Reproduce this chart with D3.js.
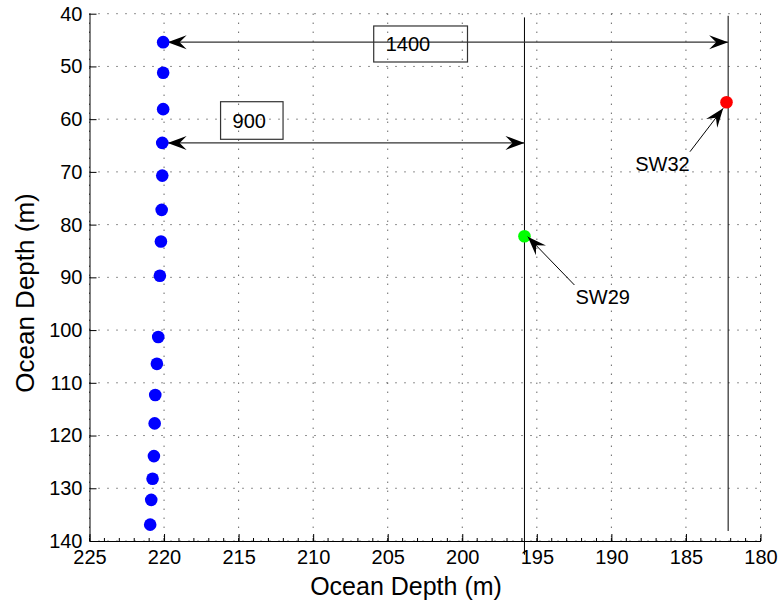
<!DOCTYPE html>
<html>
<head>
<meta charset="utf-8">
<script src="https://cdn.jsdelivr.net/npm/d3@7"></script>
<style>
  body { margin: 0; background: #fff; }
  svg text { font-family: "Liberation Sans", Arial, Helvetica, sans-serif; fill: #000; }
</style>
</head>
<body>
<div id="chart"></div>
<script>
// depth profile: blue points along the left mooring
const profileX = [220.06, 220.06, 220.06, 220.12, 220.12, 220.16, 220.21, 220.28,
                  220.39, 220.48, 220.59, 220.63, 220.68, 220.77, 220.86, 220.93];
const profileY = [45.4, 51.2, 58.1, 64.5, 70.7, 77.2, 83.2, 89.7,
                  101.3, 106.4, 112.3, 117.7, 123.9, 128.2, 132.2, 136.9];

// sensors
const sensorNames = ["SW29", "SW32"];
const sensorX = [195.83, 182.28];
const sensorY = [82.2, 56.8];
const sensorColors = ["#00ff00", "#ff0000"];
// label position and arrow tail for each sensor
const sensorLabelX = [192.41, 188.4];
const sensorLabelY = [95.0, 69.8];
const sensorTailX = [192.48, 184.73];
const sensorTailY = [91.45, 66.17];
const sensorTipX = [195.61, 182.5];
const sensorTipY = [82.29, 57.94];

// vertical reference lines
const vlineX = [195.83, 182.17];
const vlineTop = [40.7, 40.4];
const vlineBottom = [142.6, 138.1];

// distance arrows and their text boxes
const distLabels = ["1400", "900"];
const distY = [45.4, 64.5];
const distFrom = [219.76, 219.76];
const distTo = [182.17, 195.83];
const boxX0 = [205.94, 216.21];
const boxX1 = [199.65, 212.02];
const boxY0 = [42.33, 56.69];
const boxY1 = [49.16, 63.82];

const xTicks = [225, 220, 215, 210, 205, 200, 195, 190, 185, 180];
const yTicks = [40, 50, 60, 70, 80, 90, 100, 110, 120, 130, 140];

const width = 781, height = 605;
const margin = {top: 13.7, right: 20.5, bottom: 64, left: 89.5};

const x = d3.scaleLinear([225, 180], [margin.left, width - margin.right]);
const y = d3.scaleLinear([40, 140], [margin.top, height - margin.bottom]);

const svg = d3.select("#chart").append("svg")
    .attr("width", width)
    .attr("height", height)
    .attr("viewBox", [0, 0, width, height]);

// dotted grid
const grid = svg.append("g")
    .attr("stroke", "#222")
    .attr("stroke-width", 1)
    .attr("stroke-dasharray", "1,8");
grid.selectAll(".gx").data(xTicks).join("line")
    .attr("x1", d => x(d)).attr("x2", d => x(d))
    .attr("y1", y(40)).attr("y2", y(140));
grid.selectAll(".gy").data(yTicks).join("line")
    .attr("x1", x(225)).attr("x2", x(180))
    .attr("y1", d => y(d)).attr("y2", d => y(d));

// axes
const xAxis = svg.append("g")
    .attr("transform", `translate(0,${y(140)})`)
    .call(d3.axisBottom(x).tickValues(xTicks).tickSizeInner(-7).tickSizeOuter(0).tickPadding(9));
xAxis.append("g").selectAll("line").data(d3.range(180, 226, 1)).join("line")
    .attr("x1", d => x(d)).attr("x2", d => x(d))
    .attr("y1", 0).attr("y2", -3)
    .attr("stroke", "#000");

const yAxis = svg.append("g")
    .attr("transform", `translate(${x(225)},0)`)
    .call(d3.axisLeft(y).tickValues(yTicks).tickSizeInner(-7).tickSizeOuter(0).tickPadding(7));

svg.selectAll(".tick text").attr("font-size", 20);
svg.selectAll(".domain").attr("stroke", "#000");

svg.append("text")
    .attr("x", 406).attr("y", 595)
    .attr("text-anchor", "middle")
    .attr("font-size", 25)
    .text("Ocean Depth (m)");
svg.append("text")
    .attr("transform", "translate(33.5,293) rotate(-90)")
    .attr("text-anchor", "middle")
    .attr("font-size", 26)
    .text("Ocean Depth (m)");

// vertical lines
svg.append("g").selectAll("line").data(vlineX).join("line")
    .attr("x1", d => x(d)).attr("x2", d => x(d))
    .attr("y1", (d, i) => y(vlineTop[i]))
    .attr("y2", (d, i) => y(vlineBottom[i]))
    .attr("stroke", "#000").attr("stroke-width", 1);

// arrowhead: concave back, tip at origin pointing along +x
function head(px, py, angle) {
    const L = 19, W = 7, N = 12;
    const pts = [[0, 0], [-L, -W], [-N, 0], [-L, W]];
    const c = Math.cos(angle), s = Math.sin(angle);
    return "M" + pts.map(p => [px + p[0] * c - p[1] * s, py + p[0] * s + p[1] * c].join(",")).join("L") + "Z";
}

// distance arrows
const dist = svg.append("g");
distLabels.forEach((lab, i) => {
    const xa = x(distFrom[i]), xb = x(distTo[i]), yy = y(distY[i]);
    dist.append("line")
        .attr("x1", xa).attr("x2", xb).attr("y1", yy).attr("y2", yy)
        .attr("stroke", "#333").attr("stroke-width", 1.2);
    dist.append("path").attr("d", head(xa, yy, Math.PI)).attr("fill", "#000");
    dist.append("path").attr("d", head(xb, yy, 0)).attr("fill", "#000");
    dist.append("rect")
        .attr("x", x(boxX0[i])).attr("y", y(boxY0[i]))
        .attr("width", x(boxX1[i]) - x(boxX0[i]))
        .attr("height", y(boxY1[i]) - y(boxY0[i]))
        .attr("fill", "none").attr("stroke", "#333").attr("stroke-width", 1.2);
    dist.append("text")
        .attr("x", x(boxX0[i]) + 12)
        .attr("y", (y(boxY0[i]) + y(boxY1[i])) / 2 + 7.5)
        .attr("font-size", 20)
        .text(lab);
});

// profile points
svg.append("g").selectAll("circle").data(profileX).join("circle")
    .attr("cx", d => x(d))
    .attr("cy", (d, i) => y(profileY[i]))
    .attr("r", 6.3)
    .attr("fill", "#0000ff");

// sensors
const sens = svg.append("g");
sensorNames.forEach((name, i) => {
    sens.append("circle")
        .attr("cx", x(sensorX[i])).attr("cy", y(sensorY[i]))
        .attr("r", 6.3).attr("fill", sensorColors[i]);
    const tx = x(sensorTailX[i]), ty = y(sensorTailY[i]);
    const hx = x(sensorTipX[i]), hy = y(sensorTipY[i]);
    sens.append("line")
        .attr("x1", tx).attr("y1", ty).attr("x2", hx).attr("y2", hy)
        .attr("stroke", "#000").attr("stroke-width", 1);
    sens.append("path").attr("d", head(hx, hy, Math.atan2(hy - ty, hx - tx))).attr("fill", "#000");
    sens.append("text")
        .attr("x", x(sensorLabelX[i])).attr("y", y(sensorLabelY[i]))
        .attr("font-size", 20)
        .text(name);
});
</script>
</body>
</html>
